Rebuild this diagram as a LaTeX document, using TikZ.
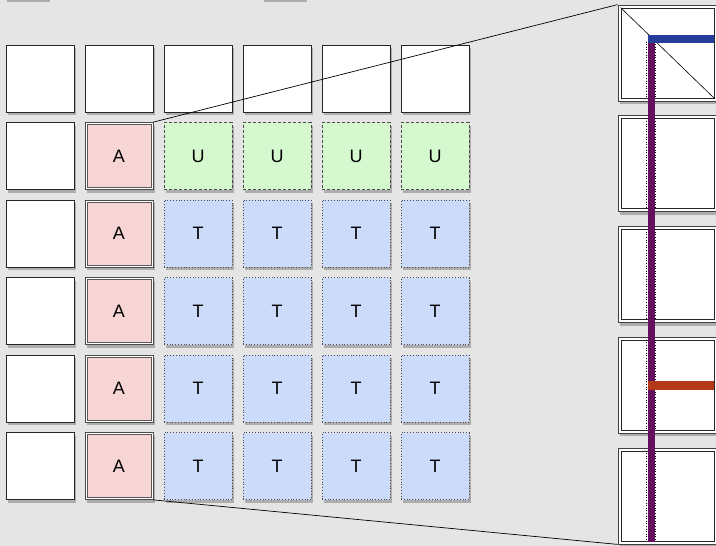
\documentclass[tikz,border=0pt]{standalone}
\definecolor{bggray}{RGB}{229,229,229}
\definecolor{cellpink}{RGB}{247,213,212}
\definecolor{cellgreen}{RGB}{214,248,206}
\definecolor{cellblue}{RGB}{204,219,249}
\definecolor{barblue}{RGB}{40,60,154}
\definecolor{barpurple}{RGB}{101,15,97}
\definecolor{barred}{RGB}{178,58,22}
\usepackage{fontspec}
\setmainfont{Liberation Sans}
\usepackage{tikz}
\usetikzlibrary{shadows,calc}

\begin{document}
\begin{tikzpicture}[x=1pt,y=-1pt,
    cell/.style={minimum width=68pt,minimum height=67pt,inner sep=0pt,font=\fontsize{18}{20}\selectfont,
        drop shadow={shadow xshift=1.5pt,shadow yshift=-3pt,opacity=0.55}},
    blank/.style={cell,draw=black!85,line width=1pt,fill=white},
    apex/.style={cell,draw=black!70,line width=0.8pt,fill=white,
        path picture={\fill[cellpink,draw=black!65,line width=0.9pt] ([xshift=2pt,yshift=2pt]path picture bounding box.south west) rectangle ([xshift=-2pt,yshift=-2pt]path picture bounding box.north east);}},
    upd/.style={cell,draw=black!70,dash pattern=on 3pt off 2pt,line width=0.8pt,fill=cellgreen},
    tile/.style={cell,draw=black!70,dotted,line width=0.8pt,fill=cellblue},
    zoombox/.style={minimum width=99pt,minimum height=96pt,inner sep=0pt,draw=black!75,line width=0.8pt,fill=white,
        drop shadow={shadow xshift=1.5pt,shadow yshift=-3pt,opacity=0.55},
        path picture={\draw[black!85,line width=1pt] ([xshift=3pt,yshift=3pt]path picture bounding box.south west) rectangle ([xshift=-3pt,yshift=-3pt]path picture bounding box.north east);}}]
    \fill[bggray] (0,0) rectangle (716,546);
    \useasboundingbox (0,0) rectangle (716,546);
    % boxes just above the page, only their shadows show
    \node[blank,minimum width=43pt,minimum height=20pt] (e1) at (26.5,-11) {}; \node[blank,minimum width=43pt,minimum height=20pt] (e2) at (283.5,-11) {};
    % grid
    \node[blank] (h1) at (40,78.5) {}; \node[blank] (h2) at (119,78.5) {}; \node[blank] (h3) at (198,78.5) {}; \node[blank] (h4) at (277,78.5) {}; \node[blank] (h5) at (356,78.5) {}; \node[blank] (h6) at (435,78.5) {};
    \node[blank] (r2) at (40,156) {}; \node[apex] (a2) at (119,156) {A}; \node[upd] (u3) at (198,156) {U}; \node[upd] (u4) at (277,156) {U}; \node[upd] (u5) at (356,156) {U}; \node[upd] (u6) at (435,156) {U};
    \node[blank] (r3) at (40,233.5) {}; \node[apex] (a3) at (119,233.5) {A}; \node[tile] (t33) at (198,233.5) {T}; \node[tile] (t34) at (277,233.5) {T}; \node[tile] (t35) at (356,233.5) {T}; \node[tile] (t36) at (435,233.5) {T};
    \node[blank] (r4) at (40,311) {}; \node[apex] (a4) at (119,311) {A}; \node[tile] (t43) at (198,311) {T}; \node[tile] (t44) at (277,311) {T}; \node[tile] (t45) at (356,311) {T}; \node[tile] (t46) at (435,311) {T};
    \node[blank] (r5) at (40,388.5) {}; \node[apex] (a5) at (119,388.5) {A}; \node[tile] (t53) at (198,388.5) {T}; \node[tile] (t54) at (277,388.5) {T}; \node[tile] (t55) at (356,388.5) {T}; \node[tile] (t56) at (435,388.5) {T};
    \node[blank] (r6) at (40,466) {}; \node[apex] (a6) at (119,466) {A}; \node[tile] (t63) at (198,466) {T}; \node[tile] (t64) at (277,466) {T}; \node[tile] (t65) at (356,466) {T}; \node[tile] (t66) at (435,466) {T};
    % zoomed column
    \node[zoombox] (z1) at (667.5,53) {}; \node[zoombox] (z2) at (667.5,163.75) {}; \node[zoombox] (z3) at (667.5,274.5) {};
    \node[zoombox] (z4) at (667.5,385.25) {}; \node[zoombox] (z5) at (667.5,496) {};
    \draw[line width=0.7pt] (a2.north east) -- (z1.north west);
    \draw[line width=0.7pt] (a6.south east) -- (z5.south west);
    \draw[line width=0.6pt] ($(z1.north west)+(3,3)$) -- ($(z1.south east)+(-3,-3)$);
    \draw[dotted,line width=0.6pt] ($(z1.north west)+(28.5,37)$) -- ($(z1.south west)+(28.5,-3)$); \draw[dotted,line width=0.6pt] ($(z1.north west)+(37.5,37)$) -- ($(z1.south west)+(37.5,-3)$);
    \draw[dotted,line width=0.6pt] ($(z2.north west)+(28.5,3)$) -- ($(z2.south west)+(28.5,-3)$); \draw[dotted,line width=0.6pt] ($(z2.north west)+(37.5,3)$) -- ($(z2.south west)+(37.5,-3)$);
    \draw[dotted,line width=0.6pt] ($(z3.north west)+(28.5,3)$) -- ($(z3.south west)+(28.5,-3)$); \draw[dotted,line width=0.6pt] ($(z3.north west)+(37.5,3)$) -- ($(z3.south west)+(37.5,-3)$);
    \draw[dotted,line width=0.6pt] ($(z4.north west)+(28.5,3)$) -- ($(z4.south west)+(28.5,-3)$); \draw[dotted,line width=0.6pt] ($(z4.north west)+(37.5,3)$) -- ($(z4.south west)+(37.5,-3)$);
    \draw[dotted,line width=0.6pt] ($(z5.north west)+(28.5,3)$) -- ($(z5.south west)+(28.5,-3)$); \draw[dotted,line width=0.6pt] ($(z5.north west)+(37.5,3)$) -- ($(z5.south west)+(37.5,-3)$);
    \fill[barpurple] (648,39) rectangle (655,542);
    \fill[barblue] (648,35) rectangle (714,43);
    \fill[barred] (648,381) rectangle (713.5,390);
\end{tikzpicture}
\end{document}
